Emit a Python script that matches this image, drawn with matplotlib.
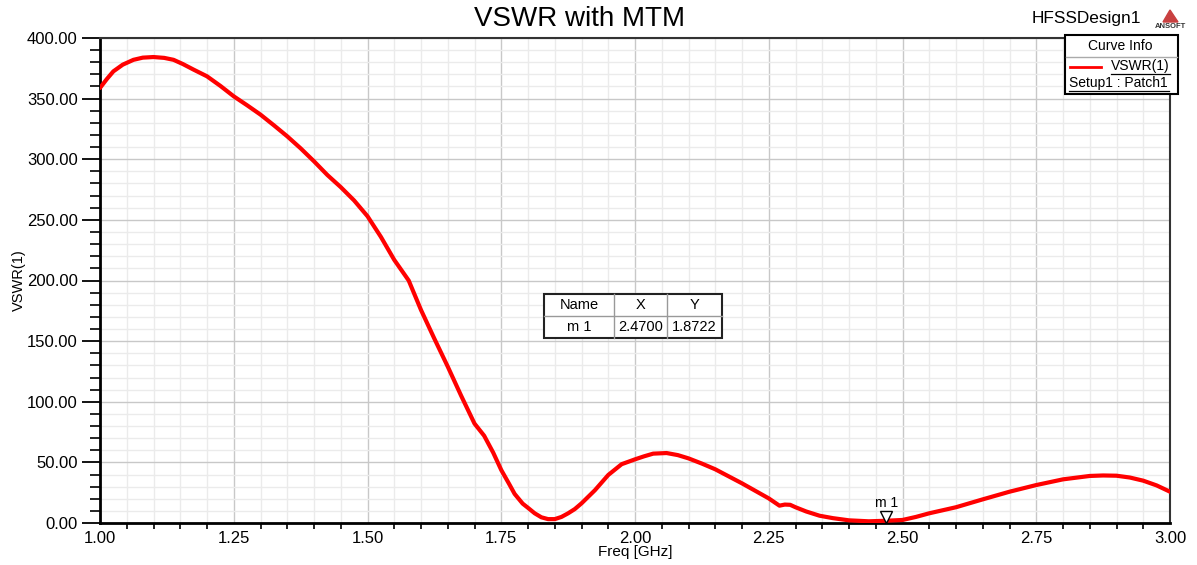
import numpy as np
import matplotlib
matplotlib.use("Agg")
import matplotlib.pyplot as plt
from matplotlib.patches import Rectangle, Polygon
from matplotlib.lines import Line2D
from matplotlib.ticker import MultipleLocator, FormatStrFormatter
import matplotlib.transforms as mtransforms

plt.rcParams['font.family'] = ['Liberation Sans', 'DejaVu Sans']

# VSWR
freq = [1.00, 1.0125, 1.025, 1.0425, 1.0625, 1.08, 1.10, 1.12, 1.1375, 1.155, 1.175, 1.20,
        1.225, 1.25, 1.275, 1.30, 1.325, 1.35, 1.375, 1.40, 1.425, 1.45, 1.475, 1.50,
        1.525, 1.55, 1.577, 1.60, 1.625, 1.65, 1.675, 1.70, 1.718, 1.735, 1.75, 1.765,
        1.775, 1.79, 1.80, 1.8125, 1.825, 1.8375, 1.85, 1.8625, 1.875, 1.8875, 1.90,
        1.925, 1.95, 1.975, 2.00, 2.017, 2.034, 2.059, 2.08, 2.10, 2.125, 2.15, 2.175,
        2.20, 2.225, 2.25, 2.27, 2.28, 2.29, 2.30, 2.32, 2.345, 2.37, 2.40, 2.437, 2.47,
        2.50, 2.525, 2.55, 2.60, 2.65, 2.70, 2.75, 2.80, 2.85, 2.875, 2.90, 2.925, 2.95,
        2.975, 3.00]
vswr = [358.8, 366.0, 372.5, 378.0, 382.0, 383.8, 384.3, 383.6, 382.0, 378.5, 373.9, 368.4,
        360.5, 351.9, 344.5, 336.8, 328.0, 318.9, 309.0, 298.3, 287.0, 277.0, 266.0, 253.0,
        236.0, 217.0, 200.0, 175.7, 152.0, 129.0, 105.0, 82.0, 72.0, 58.0, 43.7, 32.0,
        24.0, 16.0, 12.5, 8.0, 4.7, 3.2, 3.2, 5.0, 8.0, 11.5, 16.2,
        27.0, 39.6, 48.5, 52.5, 55.0, 57.2, 57.7, 56.0, 53.3, 49.0, 44.3, 38.5,
        32.7, 26.5, 20.3, 14.3, 15.2, 15.0, 13.0, 9.5, 6.0, 4.0, 2.2, 1.4, 1.87,
        2.5, 5.0, 8.0, 13.0, 19.5, 25.8, 31.3, 36.0, 38.8, 39.2, 39.0, 37.5, 34.9,
        31.0, 25.8]

marker_name = "m 1"
marker_x = 2.47
marker_y = 1.8722

W, H = 1197, 565
fig = plt.figure(figsize=(W / 100, H / 100), dpi=100)

def fx(x):
    return x / W

def fy(y):
    return 1 - y / H

ax = fig.add_axes([fx(100), fy(523), fx(1170) - fx(100), fy(38) - fy(523)])
ax.plot(freq, vswr, color='#ff0000', lw=3.0, zorder=3, solid_joinstyle='round',
        solid_capstyle='round')

ax.set_xlim(1.0, 3.0)
ax.set_ylim(0, 400)
ax.xaxis.set_major_locator(MultipleLocator(0.25))
ax.xaxis.set_minor_locator(MultipleLocator(0.05))
ax.yaxis.set_major_locator(MultipleLocator(50))
ax.yaxis.set_minor_locator(MultipleLocator(10))
ax.xaxis.set_major_formatter(FormatStrFormatter('%.2f'))
ax.yaxis.set_major_formatter(FormatStrFormatter('%.2f'))
ax.grid(which='major', color='#c8c8c8', lw=1.0)
ax.grid(which='minor', color='#ebebeb', lw=1.0)
ax.set_axisbelow(True)

ax.tick_params(axis='x', which='major', length=0, pad=6, labelsize=12)
ax.tick_params(axis='x', which='minor', length=4, width=1.2, direction='out')
ax.tick_params(axis='y', which='major', length=13, width=1.3, pad=3, labelsize=12)
ax.tick_params(axis='y', which='minor', length=7, width=1.2)

for s in ['left', 'bottom']:
    ax.spines[s].set_linewidth(2.0)
    ax.spines[s].set_color('black')
for s in ['top', 'right']:
    ax.spines[s].set_linewidth(1.5)
    ax.spines[s].set_color('#333333')

ax.set_xlabel('Freq [GHz]', fontsize=11, labelpad=-1)
ax.set_ylabel('VSWR(1)', fontsize=10.5, labelpad=1)

# marker m1
off = mtransforms.offset_copy(ax.transData, fig=fig, y=4, units='dots')
ax.plot([marker_x], [marker_y], marker='v', ms=9, mfc='white', mec='black', mew=1.0,
        transform=off, zorder=5, clip_on=False)
ax.annotate(marker_name, (marker_x, marker_y), xytext=(0, 13), textcoords='offset points',
            ha='center', va='center', fontsize=10)

# titles
fig.text(fx(579), fy(19), 'VSWR with MTM', ha='center', va='center', fontsize=20)
fig.text(fx(1086), fy(18), 'HFSSDesign1', ha='center', va='center', fontsize=12.4)
fig.patches.append(Polygon([[fx(1163), fy(22)], [fx(1170), fy(10)], [fx(1178), fy(22)]],
                           closed=True, transform=fig.transFigure, color='#c94040', figure=fig))
fig.text(fx(1170), fy(26), 'ANSOFT', ha='center', va='center', fontsize=5.5, fontweight='bold',
         color='#333333')

# curve info box
fig.patches.append(Rectangle((fx(1065), fy(94)), fx(1178) - fx(1065), fy(35) - fy(94),
                             transform=fig.transFigure, fc='white', ec='black', lw=1.5,
                             figure=fig, zorder=10))
fig.lines.append(Line2D([fx(1066), fx(1177)], [fy(57), fy(57)], transform=fig.transFigure,
                        color='#aaaaaa', lw=1.0, figure=fig, zorder=11))
fig.text(fx(1120), fy(46), 'Curve Info', ha='center', va='center', fontsize=10, zorder=12)
fig.lines.append(Line2D([fx(1070), fx(1101)], [fy(67), fy(67)], transform=fig.transFigure,
                        color='#ff0000', lw=2.0, figure=fig, zorder=11))
fig.text(fx(1170), fy(66), 'VSWR(1)', ha='right', va='center', fontsize=10, zorder=12)
fig.lines.append(Line2D([fx(1111), fx(1170)], [fy(74), fy(74)], transform=fig.transFigure,
                        color='black', lw=0.9, figure=fig, zorder=11))
fig.text(fx(1069), fy(83), 'Setup1 : Patch1', ha='left', va='center', fontsize=10, zorder=12)
fig.lines.append(Line2D([fx(1069), fx(1169)], [fy(91), fy(91)], transform=fig.transFigure,
                        color='black', lw=0.9, figure=fig, zorder=11))

# marker table
cols = [544, 614, 667, 722]
rows = [294, 316, 338]
cells = [['Name', 'X', 'Y'], [marker_name, '%.4f' % marker_x, '%.4f' % marker_y]]
fig.patches.append(Rectangle((fx(cols[0]), fy(rows[-1])), fx(cols[-1]) - fx(cols[0]),
                             fy(rows[0]) - fy(rows[-1]), transform=fig.transFigure,
                             fc='white', ec='#222222', lw=1.5, figure=fig, zorder=10))
for c in cols[1:-1]:
    fig.lines.append(Line2D([fx(c), fx(c)], [fy(rows[0]), fy(rows[-1])], transform=fig.transFigure,
                            color='#999999', lw=1.0, figure=fig, zorder=11))
fig.lines.append(Line2D([fx(cols[0]), fx(cols[-1])], [fy(rows[1]), fy(rows[1])],
                        transform=fig.transFigure, color='#999999', lw=1.0, figure=fig, zorder=11))
for r, row in enumerate(cells):
    for c, txt in enumerate(row):
        fig.text(fx((cols[c] + cols[c + 1]) / 2), fy((rows[r] + rows[r + 1]) / 2), txt,
                 ha='center', va='center', fontsize=10.5, zorder=12)

fig.savefig('out.png', dpi=100)
